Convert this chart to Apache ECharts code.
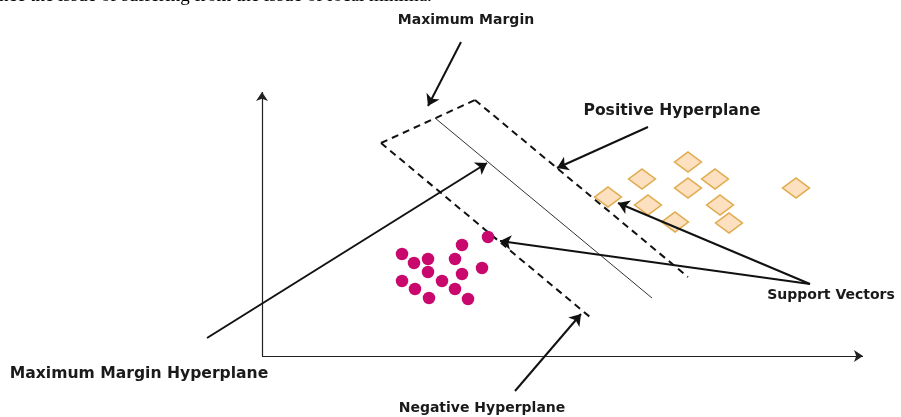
<!DOCTYPE html>
<html>
<head>
<meta charset="utf-8">
<script src="https://cdn.jsdelivr.net/npm/echarts@6/dist/echarts.min.js"></script>
<style>
html,body{margin:0;padding:0;background:#fff;}
#c{width:901px;height:417px;}
</style>
</head>
<body>
<div id="c"></div>
<script>
// Diagram coordinates: origin at the axes' corner, units of the diagram plane
var axisLines = [
  [[0, 0], [0, 264]],
  [[0, 0], [601, 0]]
];
var positiveHyperplane = [[213, 256], [426, 79]];
var negativeHyperplane = [[119, 213], [328, 39]];
var marginEdge = [[119, 213], [213, 256]];
var decisionBoundary = [[173, 238], [390, 58]];
var pointerArrows = [
  [[199, 314], [166, 250]],   // Maximum Margin
  [[386, 229], [295, 188]],   // Positive Hyperplane
  [[-55, 18], [225, 193]],    // Maximum Margin Hyperplane
  [[548, 72], [238, 115]],    // Support vector (circle)
  [[548, 72], [356, 153]],    // Support vector (diamond)
  [[253, -35], [319, 42]]     // Negative Hyperplane
];
var negativeClass = [
  [226, 119], [200, 111], [140, 102], [166, 97], [193, 97], [152, 93],
  [166, 84], [200, 82], [220, 88], [140, 75], [180, 75], [153, 67],
  [193, 67], [167, 58], [206, 57]
];
var positiveClass = [
  [346, 159], [380, 177], [386, 151], [426, 194], [426, 168], [453, 177],
  [413, 134], [458, 151], [467, 133], [534, 168]
];
var labelNames = ['Maximum Margin', 'Positive Hyperplane', 'Support Vectors', 'Maximum Margin Hyperplane', 'Negative Hyperplane'];
var labelPositions = [[204, 336], [410, 245], [569, 61], [-123, -18], [220, -52]];
var labelSizes = [14, 15.6, 14, 15.6, 14];
var headerText = 'nce the issue of suffering from the issue of local minima.';

var chart = echarts.init(document.getElementById('c'), null, {renderer: 'canvas'});
function toLines(list) { return list.map(function (c) { return {coords: c}; }); }

chart.setOption({
  animation: false,
  backgroundColor: '#ffffff',
  grid: {left: 0, right: 0, top: 0, bottom: 0},
  xAxis: {type: 'value', min: -262, max: 639, show: false},
  yAxis: {type: 'value', min: -61, max: 356, show: false},
  graphic: [{
    type: 'text', left: -1, top: -13,
    style: {text: headerText, font: '19px "Liberation Serif"', fill: '#000'}
  }],
  series: [
    {
      type: 'lines', coordinateSystem: 'cartesian2d', z: 2,
      symbol: ['none', 'arrow'], symbolSize: 9,
      lineStyle: {color: '#222', width: 1.2, opacity: 1},
      data: toLines(axisLines)
    },
    {
      type: 'lines', coordinateSystem: 'cartesian2d', z: 2,
      symbol: ['none', 'none'],
      lineStyle: {color: '#111', width: 2, type: [7, 5], opacity: 1},
      data: toLines([positiveHyperplane, negativeHyperplane, marginEdge])
    },
    {
      type: 'lines', coordinateSystem: 'cartesian2d', z: 2,
      symbol: ['none', 'none'],
      lineStyle: {color: '#333', width: 1, opacity: 1},
      data: toLines([decisionBoundary])
    },
    {
      type: 'scatter', z: 3, symbol: 'circle', symbolSize: 12.5,
      itemStyle: {color: '#c8086c', opacity: 1},
      data: negativeClass
    },
    {
      type: 'scatter', z: 3, symbol: 'diamond', symbolSize: [27, 20],
      itemStyle: {color: '#fde0c0', borderColor: '#e0ac50', borderWidth: 1.5, opacity: 1},
      data: positiveClass
    },
    {
      type: 'lines', coordinateSystem: 'cartesian2d', z: 4,
      symbol: ['none', 'arrow'], symbolSize: 11,
      lineStyle: {color: '#111', width: 2, opacity: 1},
      data: toLines(pointerArrows)
    },
    {
      type: 'scatter', z: 5, symbolSize: 0, silent: true,
      itemStyle: {opacity: 1},
      label: {
        show: true, position: 'inside', formatter: '{b}',
        fontFamily: 'DejaVu Sans', fontWeight: 'bold', fontSize: 14, color: '#1a1a1a'
      },
      data: labelNames.map(function (n, i) {
        return {name: n, value: labelPositions[i], label: {fontSize: labelSizes[i]}};
      })
    }
  ]
});
</script>
</body>
</html>
